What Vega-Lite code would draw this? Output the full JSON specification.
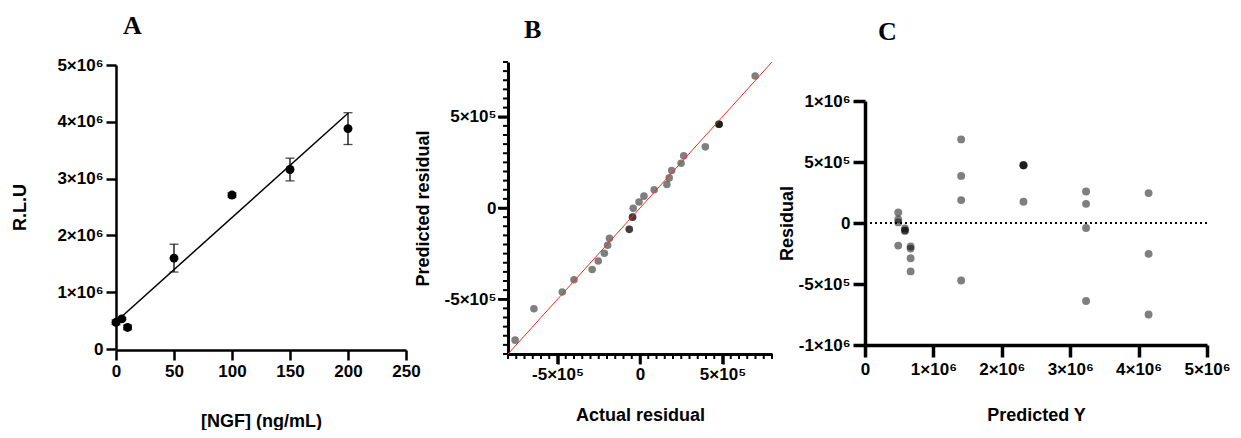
{
  "$schema": "https://vega.github.io/schema/vega-lite/v6.json",
  "background": "white",
  "padding": {"left": 11, "top": 13, "right": 0, "bottom": 0},
  "spacing": 0,
  "bounds": "flush",
  "config": {
    "view": {"stroke": null, "fill": null},
    "font": "Liberation Sans",
    "axis": {
      "grid": false,
      "labelFlush": false,
      "domainColor": "black",
      "tickColor": "black",
      "labelColor": "black",
      "titleColor": "black",
      "labelFont": "Liberation Sans",
      "labelFontWeight": "bold",
      "labelFontSize": 17,
      "titleFont": "Liberation Sans",
      "titleFontWeight": "bold",
      "titleFontSize": 18,
      "labelOverlap": false
    },
    "title": {"font": "Liberation Serif", "fontSize": 26, "fontWeight": "bold", "color": "black", "anchor": "start", "frame": "group", "offset": 17}
  },
  "hconcat": [
    {
      "width": 392,
      "height": 288,
      "title": {"text": "A", "dx": 7},
      "data": {"values": [
        {"conc": 0, "rlu": 470000, "lo": 430000, "hi": 510000},
        {"conc": 5, "rlu": 530000, "lo": 515000, "hi": 545000},
        {"conc": 10, "rlu": 380000, "lo": 340000, "hi": 420000},
        {"conc": 50, "rlu": 1600000, "lo": 1355000, "hi": 1845000},
        {"conc": 100, "rlu": 2710000, "lo": 2670000, "hi": 2750000},
        {"conc": 150, "rlu": 3160000, "lo": 2960000, "hi": 3360000},
        {"conc": 200, "rlu": 3880000, "lo": 3600000, "hi": 4160000}
      ]},
      "encoding": {
        "x": {"field": "conc", "type": "quantitative", "scale": {"domain": [0, 250], "nice": false, "range": [0, 290]},
          "axis": {"values": [0, 50, 100, 150, 200, 250], "title": "[NGF] (ng/mL)", "domainWidth": 2.5, "tickWidth": 2.5, "tickSize": 10, "labelPadding": 3, "titlePadding": 33}},
        "y": {"field": "rlu", "type": "quantitative", "scale": {"domain": [0, 5000000], "nice": false, "range": [287, 3]},
          "axis": {"values": [0, 1000000, 2000000, 3000000, 4000000, 5000000], "labelExpr": "datum.value == 0 ? '0' : format(datum.value / 1000000, 'd') + '×10⁶'", "title": "R.L.U", "domainWidth": 2.5, "tickWidth": 2.5, "tickSize": 10, "labelPadding": 3, "titlePadding": 27}}
      },
      "layer": [
        {"data": {"values": [{"conc": 0, "rlu": 480000}, {"conc": 200, "rlu": 4150000}]},
         "mark": {"type": "line", "color": "black", "strokeWidth": 1.5}, "encoding": {}},
        {"mark": {"type": "errorbar", "color": "black", "thickness": 1.3, "size": 9, "ticks": true},
         "encoding": {"y": {"field": "lo", "type": "quantitative", "title": "R.L.U"}, "y2": {"field": "hi"}}},
        {"mark": {"type": "circle", "size": 80, "color": "black", "opacity": 1}}
      ]
    },
    {
      "width": 357,
      "height": 292,
      "title": {"text": "B", "dx": 16},
      "layer": [
        {"data": {"values": [
           {"actual": -757000, "predicted": -724000},
           {"actual": -643000, "predicted": -552000},
           {"actual": -471000, "predicted": -460000},
           {"actual": -400000, "predicted": -393000},
           {"actual": -290000, "predicted": -337000},
           {"actual": -253000, "predicted": -290000},
           {"actual": -216000, "predicted": -248000},
           {"actual": -196000, "predicted": -204000},
           {"actual": -185000, "predicted": -166000},
           {"actual": -65000, "predicted": -117000},
           {"actual": -65000, "predicted": -117000},
           {"actual": -45000, "predicted": -50000},
           {"actual": -45000, "predicted": -50000},
           {"actual": -41000, "predicted": -2000},
           {"actual": -6000, "predicted": 33000},
           {"actual": 24000, "predicted": 65000},
           {"actual": 86000, "predicted": 100000},
           {"actual": 163000, "predicted": 129000},
           {"actual": 177000, "predicted": 165000},
           {"actual": 192000, "predicted": 205000},
           {"actual": 249000, "predicted": 245000},
           {"actual": 265000, "predicted": 286000},
           {"actual": 396000, "predicted": 335000},
           {"actual": 479000, "predicted": 459000},
           {"actual": 479000, "predicted": 459000},
           {"actual": 479000, "predicted": 459000},
           {"actual": 698000, "predicted": 723000}
         ]},
         "mark": {"type": "circle", "size": 57, "color": "black", "opacity": 0.5},
         "encoding": {
           "x": {"field": "actual", "type": "quantitative", "title": "Actual residual", "scale": {"domain": [-800000, 800000], "nice": false, "range": [0, 264]},
             "axis": {"orient": "bottom", "values": [-500000, 0, 500000], "labelExpr": "datum.value == 0 ? '0' : (datum.value < 0 ? '-' : '') + '5×10⁵'", "tickSize": 10, "tickWidth": 2.5, "domainWidth": 3, "labelPadding": 2, "title": "Actual residual", "titlePadding": 24}},
           "y": {"field": "predicted", "type": "quantitative", "title": "Predicted residual", "scale": {"domain": [-800000, 800000], "nice": false, "range": [292, 0]},
             "axis": {"orient": "left", "values": [-500000, 0, 500000], "labelExpr": "datum.value == 0 ? '0' : (datum.value < 0 ? '-' : '') + '5×10⁵'", "tickSize": 10, "tickWidth": 2.5, "domainWidth": 3, "labelPadding": 2, "title": "Predicted residual", "titlePadding": 12}}
         }},
        {"data": {"values": [{"actual": -800000, "predicted": -800000}, {"actual": 800000, "predicted": 800000}]},
         "mark": {"type": "line", "color": "#f0301c", "strokeWidth": 1},
         "encoding": {
           "x": {"field": "actual", "type": "quantitative", "title": "Actual residual"},
           "y": {"field": "predicted", "type": "quantitative", "title": "Predicted residual"}
         }},
        {"mark": {"type": "rule", "color": "black", "strokeWidth": 3},
         "encoding": {
           "x": {"datum": -800000, "type": "quantitative", "title": "Actual residual"},
           "y": {"datum": -800000, "type": "quantitative", "title": "Predicted residual"},
           "y2": {"datum": 800000}
         }},
        {"mark": {"type": "rule", "color": "black", "strokeWidth": 3},
         "encoding": {
           "y": {"datum": -800000, "type": "quantitative", "title": "Predicted residual"},
           "x": {"datum": -800000, "type": "quantitative", "title": "Actual residual"},
           "x2": {"datum": 800000}
         }},
        {"mark": {"type": "rule", "color": "black", "strokeWidth": 2},
         "encoding": {
           "x": {"datum": -792000, "type": "quantitative", "title": "Actual residual"},
           "y": {"datum": -800000, "type": "quantitative", "title": "Predicted residual"},
           "y2": {"datum": 800000}
         }},
        {"mark": {"type": "rule", "color": "black", "strokeWidth": 2},
         "encoding": {
           "y": {"datum": -792000, "type": "quantitative", "title": "Predicted residual"},
           "x": {"datum": -800000, "type": "quantitative", "title": "Actual residual"},
           "x2": {"datum": 800000}
         }},
        {"data": {"values": [
           {"tick": -800000}, {"tick": -750000}, {"tick": -700000}, {"tick": -650000}, {"tick": -600000}, {"tick": -550000},
           {"tick": -450000}, {"tick": -400000}, {"tick": -350000}, {"tick": -300000}, {"tick": -250000}, {"tick": -200000},
           {"tick": -150000}, {"tick": -100000}, {"tick": -50000}, {"tick": 50000}, {"tick": 100000}, {"tick": 150000},
           {"tick": 200000}, {"tick": 250000}, {"tick": 300000}, {"tick": 350000}, {"tick": 400000}, {"tick": 450000},
           {"tick": 550000}, {"tick": 600000}, {"tick": 650000}, {"tick": 700000}, {"tick": 750000}, {"tick": 800000}
         ]},
         "layer": [
           {"mark": {"type": "tick", "orient": "horizontal", "color": "black", "opacity": 1, "size": 5, "thickness": 2, "xOffset": -2.5},
            "encoding": {
              "y": {"field": "tick", "type": "quantitative", "title": "Predicted residual"},
              "x": {"datum": -800000, "type": "quantitative", "title": "Actual residual"}
            }},
           {"mark": {"type": "tick", "orient": "vertical", "color": "black", "opacity": 1, "size": 5, "thickness": 2, "yOffset": 2.5},
            "encoding": {
              "x": {"field": "tick", "type": "quantitative", "title": "Actual residual"},
              "y": {"datum": -800000, "type": "quantitative", "title": "Predicted residual"}
            }}
         ]},
        {"data": {"values": [{"tick": -500000}, {"tick": 0}, {"tick": 500000}]},
         "layer": [
           {"mark": {"type": "tick", "orient": "horizontal", "color": "black", "opacity": 1, "size": 10, "thickness": 2.5, "xOffset": -5},
            "encoding": {
              "y": {"field": "tick", "type": "quantitative", "title": "Predicted residual"},
              "x": {"datum": -800000, "type": "quantitative", "title": "Actual residual"}
            }},
           {"mark": {"type": "tick", "orient": "vertical", "color": "black", "opacity": 1, "size": 10, "thickness": 2.5, "yOffset": 5},
            "encoding": {
              "x": {"field": "tick", "type": "quantitative", "title": "Actual residual"},
              "y": {"datum": -800000, "type": "quantitative", "title": "Predicted residual"}
            }}
         ]}
      ]
    },
    {
      "width": 342,
      "height": 283,
      "title": {"text": "C", "dx": 13},
      "data": {"values": [
        {"pred": 486000, "resid": 86000},
        {"pred": 486000, "resid": 30000},
        {"pred": 486000, "resid": 5000},
        {"pred": 486000, "resid": -185000},
        {"pred": 584000, "resid": -45000},
        {"pred": 584000, "resid": -60000},
        {"pred": 584000, "resid": -65000},
        {"pred": 667000, "resid": -193000},
        {"pred": 667000, "resid": -210000},
        {"pred": 667000, "resid": -289000},
        {"pred": 667000, "resid": -397000},
        {"pred": 1406000, "resid": 685000},
        {"pred": 1406000, "resid": 386000},
        {"pred": 1406000, "resid": 188000},
        {"pred": 1406000, "resid": -471000},
        {"pred": 2317000, "resid": 473000},
        {"pred": 2317000, "resid": 473000},
        {"pred": 2317000, "resid": 473000},
        {"pred": 2317000, "resid": 174000},
        {"pred": 3232000, "resid": 258000},
        {"pred": 3232000, "resid": 157000},
        {"pred": 3232000, "resid": -41000},
        {"pred": 3232000, "resid": -639000},
        {"pred": 4146000, "resid": 245000},
        {"pred": 4146000, "resid": -253000},
        {"pred": 4146000, "resid": -750000}
      ]},
      "layer": [
        {"mark": {"type": "rule", "color": "black", "strokeWidth": 2, "strokeDash": [2, 3]},
         "encoding": {"y": {"datum": 0}}},
        {"mark": {"type": "circle", "size": 62, "color": "black", "opacity": 0.5},
         "encoding": {
           "x": {"field": "pred", "type": "quantitative", "scale": {"domain": [0, 5000000], "nice": false},
             "axis": {"values": [0, 1000000, 2000000, 3000000, 4000000, 5000000], "labelExpr": "datum.value == 0 ? '0' : format(datum.value / 1000000, 'd') + '×10⁶'", "title": "Predicted Y", "domainWidth": 3.5, "tickWidth": 3.5, "tickSize": 12, "labelPadding": 4, "titlePadding": 29}},
           "y": {"field": "resid", "type": "quantitative", "scale": {"domain": [-1000000, 1000000], "nice": false, "range": [283, 39]},
             "axis": {"values": [-1000000, -500000, 0, 500000, 1000000], "labelExpr": "datum.value == 0 ? '0' : (datum.value < 0 ? '-' : '') + (abs(datum.value) == 1000000 ? '1×10⁶' : '5×10⁵')", "title": "Residual", "domainWidth": 3.5, "tickWidth": 3.5, "tickSize": 12, "labelPadding": 3, "titlePadding": 2}}
         }}
      ]
    }
  ]
}
